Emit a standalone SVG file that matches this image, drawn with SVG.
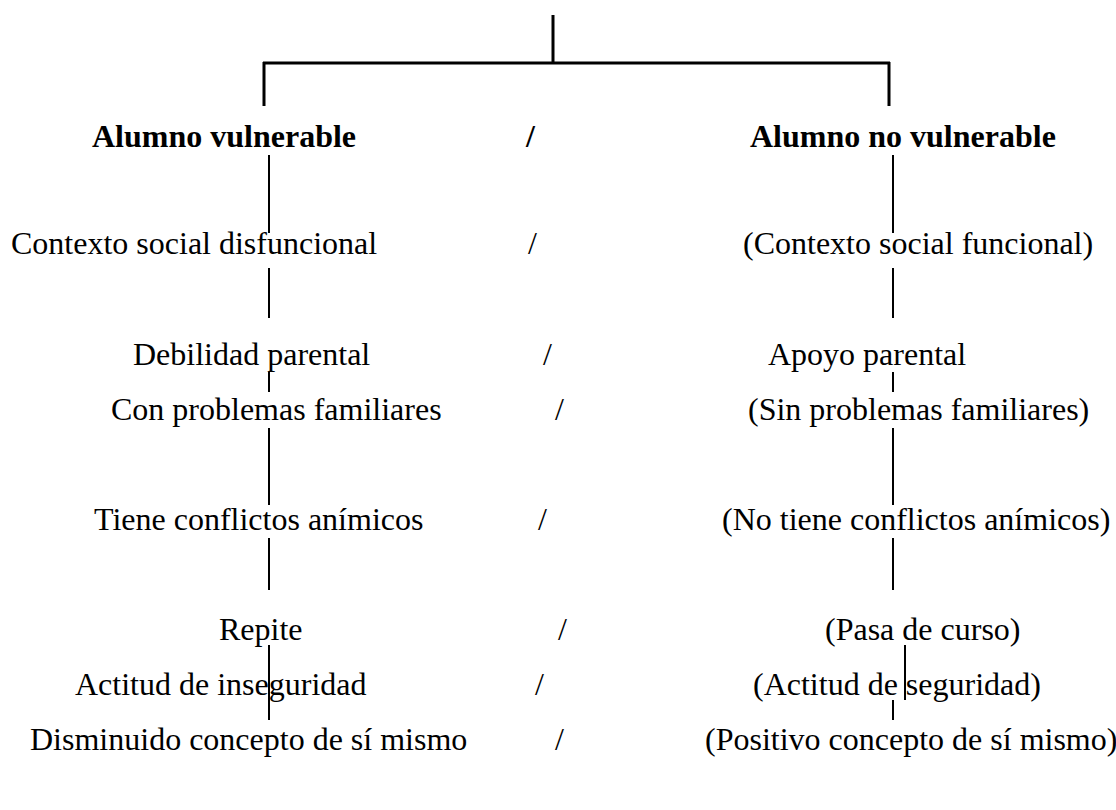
<svg xmlns="http://www.w3.org/2000/svg" width="1116" height="810" viewBox="0 0 1116 810">
<style>
text{font-family:"Liberation Serif","Times New Roman",serif;font-size:32px;fill:#000}
.b{font-weight:bold}
.thick{stroke:#000;stroke-width:3;fill:none}
.thin{stroke:#000;stroke-width:2;fill:none}
</style>
<rect width="1116" height="810" fill="#fff"/>
<g id="connectors">
<path class="thick" d="M553,15 V63 M263,63 H890 M264,62 V106 M889,62 V106"/>
<path class="thin" d="M269,155 V233 M269,268 V318 M269,372 V392 M269,428 V505 M269,538 V590 M269,645 V700 M269,700 V720"/>
<path class="thin" d="M893,155 V233 M893,268 V318 M893,372 V392 M893,428 V505 M893,538 V590 M905,645 V700 M893,700 V720"/>
</g>
<g id="n-head-left"><text class="b" x="92" y="147">Alumno vulnerable</text></g>
<g id="n-head-sep"><text class="b" x="526" y="147">/</text></g>
<g id="n-head-right"><text class="b" x="750" y="147">Alumno no vulnerable</text></g>
<g id="n-r1"><text x="11" y="254">Contexto social disfuncional</text><text x="528" y="254">/</text><text x="743" y="254">(Contexto social funcional)</text></g>
<g id="n-r2"><text x="133" y="365">Debilidad parental</text><text x="543" y="365">/</text><text x="768" y="365">Apoyo parental</text></g>
<g id="n-r3"><text x="111" y="420">Con problemas familiares</text><text x="555" y="420">/</text><text x="748" y="420">(Sin problemas familiares)</text></g>
<g id="n-r4"><text x="94" y="530">Tiene conflictos anímicos</text><text x="538" y="530">/</text><text x="722" y="530">(No tiene conflictos anímicos)</text></g>
<g id="n-r5"><text x="219" y="640">Repite</text><text x="558" y="640">/</text><text x="825" y="640">(Pasa de curso)</text></g>
<g id="n-r6"><text x="75" y="695">Actitud de inseguridad</text><text x="535" y="695">/</text><text x="753" y="695">(Actitud de seguridad)</text></g>
<g id="n-r7"><text x="30" y="750">Disminuido concepto de sí mismo</text><text x="555" y="750">/</text><text x="705" y="750">(Positivo concepto de sí mismo)</text></g>
</svg>
